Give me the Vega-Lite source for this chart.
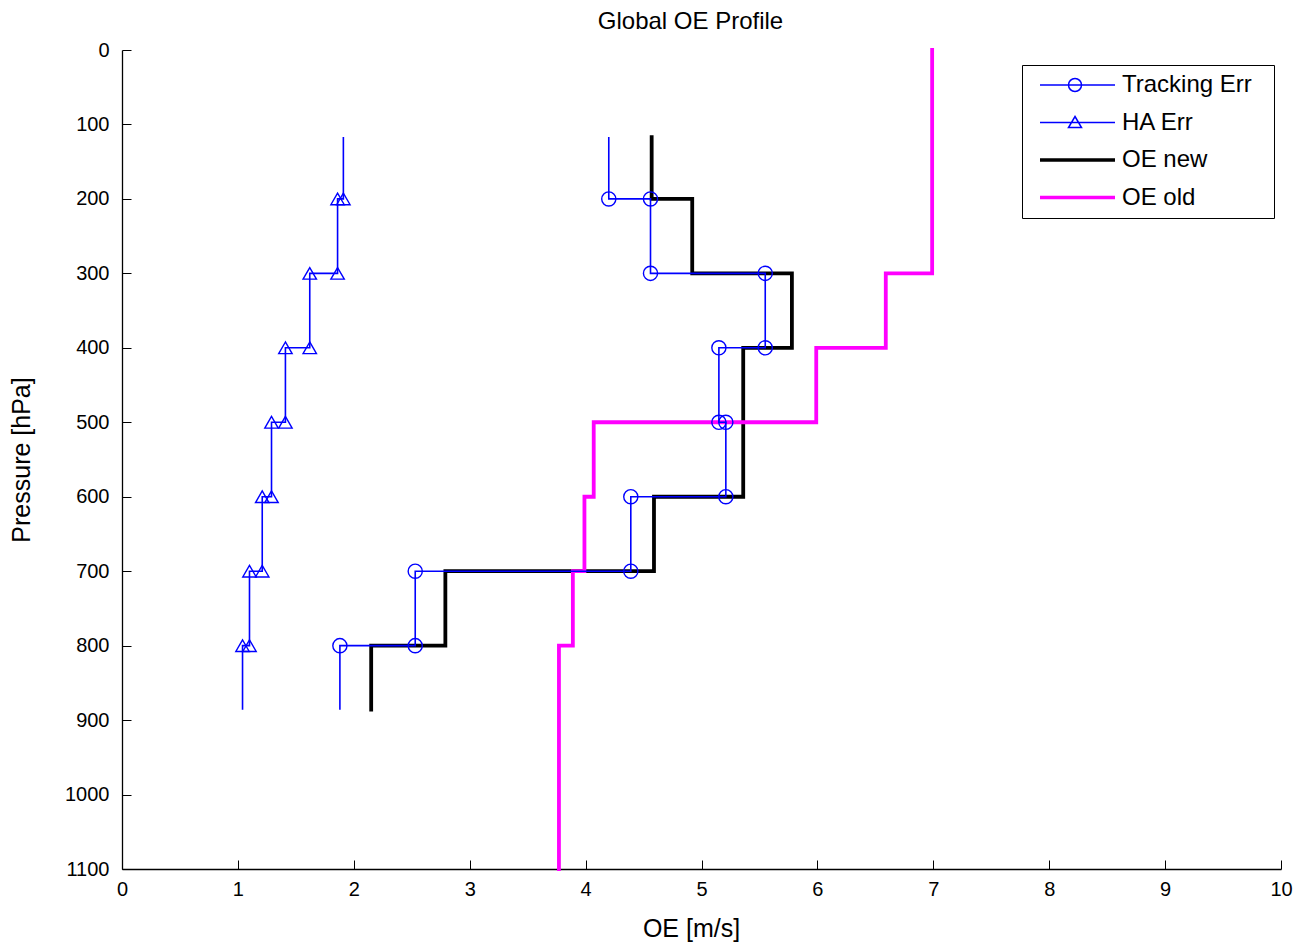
{
  "$schema": "https://vega.github.io/schema/vega-lite/v6.json",
  "width": 1159,
  "height": 819,
  "autosize": "none",
  "padding": {"left": 122, "top": 50, "right": 18, "bottom": 76},
  "background": "white",
  "title": {"text": "Global OE Profile", "fontSize": 24, "fontWeight": "normal", "font": "Liberation Sans", "color": "black", "offset": 6, "dx": -11},
  "datasets": {
    "profiles": [
      {"series": "Tracking Err", "i": 0, "oe": 4.20, "p": 117},
      {"series": "Tracking Err", "i": 1, "oe": 4.20, "p": 200},
      {"series": "Tracking Err", "i": 2, "oe": 4.56, "p": 200},
      {"series": "Tracking Err", "i": 3, "oe": 4.56, "p": 300},
      {"series": "Tracking Err", "i": 4, "oe": 5.55, "p": 300},
      {"series": "Tracking Err", "i": 5, "oe": 5.55, "p": 400},
      {"series": "Tracking Err", "i": 6, "oe": 5.15, "p": 400},
      {"series": "Tracking Err", "i": 7, "oe": 5.15, "p": 500},
      {"series": "Tracking Err", "i": 8, "oe": 5.21, "p": 500},
      {"series": "Tracking Err", "i": 9, "oe": 5.21, "p": 600},
      {"series": "Tracking Err", "i": 10, "oe": 4.39, "p": 600},
      {"series": "Tracking Err", "i": 11, "oe": 4.39, "p": 700},
      {"series": "Tracking Err", "i": 12, "oe": 2.53, "p": 700},
      {"series": "Tracking Err", "i": 13, "oe": 2.53, "p": 800},
      {"series": "Tracking Err", "i": 14, "oe": 1.88, "p": 800},
      {"series": "Tracking Err", "i": 15, "oe": 1.88, "p": 886},
      {"series": "HA Err", "i": 0, "oe": 1.91, "p": 117},
      {"series": "HA Err", "i": 1, "oe": 1.91, "p": 200},
      {"series": "HA Err", "i": 2, "oe": 1.86, "p": 200},
      {"series": "HA Err", "i": 3, "oe": 1.86, "p": 300},
      {"series": "HA Err", "i": 4, "oe": 1.62, "p": 300},
      {"series": "HA Err", "i": 5, "oe": 1.62, "p": 400},
      {"series": "HA Err", "i": 6, "oe": 1.41, "p": 400},
      {"series": "HA Err", "i": 7, "oe": 1.41, "p": 500},
      {"series": "HA Err", "i": 8, "oe": 1.29, "p": 500},
      {"series": "HA Err", "i": 9, "oe": 1.29, "p": 600},
      {"series": "HA Err", "i": 10, "oe": 1.21, "p": 600},
      {"series": "HA Err", "i": 11, "oe": 1.21, "p": 700},
      {"series": "HA Err", "i": 12, "oe": 1.10, "p": 700},
      {"series": "HA Err", "i": 13, "oe": 1.10, "p": 800},
      {"series": "HA Err", "i": 14, "oe": 1.04, "p": 800},
      {"series": "HA Err", "i": 15, "oe": 1.04, "p": 886},
      {"series": "OE new", "i": 0, "oe": 4.57, "p": 117},
      {"series": "OE new", "i": 1, "oe": 4.57, "p": 200},
      {"series": "OE new", "i": 2, "oe": 4.92, "p": 200},
      {"series": "OE new", "i": 3, "oe": 4.92, "p": 300},
      {"series": "OE new", "i": 4, "oe": 5.78, "p": 300},
      {"series": "OE new", "i": 5, "oe": 5.78, "p": 400},
      {"series": "OE new", "i": 6, "oe": 5.36, "p": 400},
      {"series": "OE new", "i": 7, "oe": 5.36, "p": 500},
      {"series": "OE new", "i": 8, "oe": 5.36, "p": 600},
      {"series": "OE new", "i": 9, "oe": 4.59, "p": 600},
      {"series": "OE new", "i": 10, "oe": 4.59, "p": 700},
      {"series": "OE new", "i": 11, "oe": 2.79, "p": 700},
      {"series": "OE new", "i": 12, "oe": 2.79, "p": 800},
      {"series": "OE new", "i": 13, "oe": 2.15, "p": 800},
      {"series": "OE new", "i": 14, "oe": 2.15, "p": 886},
      {"series": "OE old", "i": 0, "oe": 6.99, "p": 0},
      {"series": "OE old", "i": 1, "oe": 6.99, "p": 300},
      {"series": "OE old", "i": 2, "oe": 6.59, "p": 300},
      {"series": "OE old", "i": 3, "oe": 6.59, "p": 400},
      {"series": "OE old", "i": 4, "oe": 5.99, "p": 400},
      {"series": "OE old", "i": 5, "oe": 5.99, "p": 500},
      {"series": "OE old", "i": 6, "oe": 4.07, "p": 500},
      {"series": "OE old", "i": 7, "oe": 4.07, "p": 600},
      {"series": "OE old", "i": 8, "oe": 3.99, "p": 600},
      {"series": "OE old", "i": 9, "oe": 3.99, "p": 700},
      {"series": "OE old", "i": 10, "oe": 3.89, "p": 700},
      {"series": "OE old", "i": 11, "oe": 3.89, "p": 800},
      {"series": "OE old", "i": 12, "oe": 3.77, "p": 800},
      {"series": "OE old", "i": 13, "oe": 3.77, "p": 1100}
    ]
  },
  "data": {"name": "profiles"},
  "encoding": {
    "x": {
      "field": "oe", "type": "quantitative",
      "scale": {"domain": [0, 10], "nice": false, "zero": false},
      "axis": {"title": "OE [m/s]", "values": [0, 1, 2, 3, 4, 5, 6, 7, 8, 9, 10], "labelPadding": 19, "titlePadding": 17, "titleX": 569, "titleFontSize": 25}
    },
    "y": {
      "field": "p", "type": "quantitative",
      "scale": {"domain": [0, 1100], "reverse": true, "nice": false, "zero": false},
      "axis": {"title": "Pressure [hPa]", "format": "d", "values": [0, 100, 200, 300, 400, 500, 600, 700, 800, 900, 1000, 1100], "titlePadding": 30, "titleFontSize": 25}
    }
  },
  "layer": [
    {
      "transform": [{"filter": "datum.series === 'OE new'"}],
      "mark": {"type": "line", "strokeWidth": 3.8, "color": "#000000", "strokeCap": "square"},
      "encoding": {"order": {"field": "i", "type": "quantitative"}}
    },
    {
      "transform": [{"filter": "datum.series === 'OE old'"}],
      "mark": {"type": "line", "strokeWidth": 3.8, "color": "#ff00ff", "strokeCap": "square"},
      "encoding": {"order": {"field": "i", "type": "quantitative"}}
    },
    {
      "transform": [{"filter": "datum.series === 'Tracking Err' || datum.series === 'HA Err'"}],
      "mark": {"type": "line", "strokeWidth": 1.6, "color": "#0000ff"},
      "encoding": {
        "detail": {"field": "series", "type": "nominal"},
        "order": {"field": "i", "type": "quantitative"}
      }
    },
    {
      "transform": [{"filter": "datum.series === 'Tracking Err' && datum.p >= 200 && datum.p <= 800"}],
      "mark": {"type": "point", "shape": "circle", "size": 200, "filled": false, "color": "#0000ff", "strokeWidth": 1.4, "opacity": 1}
    },
    {
      "transform": [{"filter": "datum.series === 'HA Err' && datum.p >= 200 && datum.p <= 800"}],
      "mark": {"type": "point", "shape": "triangle-up", "size": 180, "filled": false, "color": "#0000ff", "strokeWidth": 1.4, "opacity": 1}
    },
    {
      "mark": {"type": "point", "filled": false, "opacity": 0, "size": 400, "strokeWidth": 1.5},
      "encoding": {
        "color": {
          "field": "series", "type": "nominal",
          "scale": {"domain": ["Tracking Err", "HA Err", "OE new", "OE old"], "range": ["#0000ff", "#0000ff", "#000000", "#ff00ff"]},
          "legend": {"orient": "none", "legendX": 900, "legendY": 15, "title": null, "symbolOpacity": 1, "symbolSize": 400, "symbolStrokeWidth": 1.5, "labelFont": "Liberation Sans", "labelFontSize": 24, "labelColor": "black", "labelOffset": 68, "labelLimit": 0, "labelExpr": "datum.label + '\u00a0\u00a0\u200b'", "rowPadding": 13.5, "padding": 8, "strokeColor": "black", "fillColor": "white"}
        },
        "shape": {
          "field": "series", "type": "nominal",
          "scale": {"domain": ["Tracking Err", "HA Err", "OE new", "OE old"], "range": [
            "M-0.2,0H7.3M3.95,0A0.65,0.65,0,1,1,2.65,0A0.65,0.65,0,1,1,3.95,0",
            "M-0.2,0H7.3M3.3,-0.6L3.95,0.5L2.65,0.5Z",
            "M-0.2,-0.1H7.3M-0.2,0H7.3M-0.2,0.1H7.3",
            "M-0.2,-0.1H7.3M-0.2,0H7.3M-0.2,0.1H7.3"
          ]},
          "legend": {"orient": "none", "legendX": 900, "legendY": 15, "title": null, "symbolOpacity": 1, "symbolSize": 400, "symbolStrokeWidth": 1.5, "labelFont": "Liberation Sans", "labelFontSize": 24, "labelColor": "black", "labelOffset": 68, "labelLimit": 0, "labelExpr": "datum.label + '\u00a0\u00a0\u200b'", "rowPadding": 13.5, "padding": 8, "strokeColor": "black", "fillColor": "white"}
        }
      }
    }
  ],
  "config": {
    "view": {"stroke": null},
    "axis": {
      "grid": false,
      "domainColor": "black",
      "domainWidth": 1.3,
      "tickColor": "black",
      "tickWidth": 1,
      "tickSize": -9,
      "labelPadding": 22,
      "labelColor": "black",
      "labelFont": "Liberation Sans",
      "labelFontSize": 20,
      "labelFlush": false,
      "labelOverlap": false,
      "titleColor": "black",
      "titleFont": "Liberation Sans",
      "titleFontSize": 23,
      "titleFontWeight": "normal"
    }
  }
}
